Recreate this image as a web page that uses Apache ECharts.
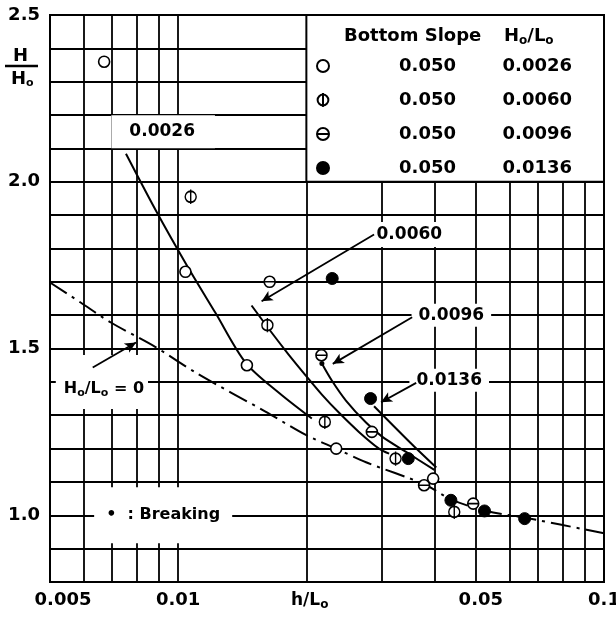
<!DOCTYPE html>
<html><head><meta charset="utf-8">
<script src="https://cdn.jsdelivr.net/npm/echarts@6/dist/echarts.min.js"></script>
<style>html,body{margin:0;padding:0;background:#fff}#c{width:616px;height:621px}</style>
</head><body><div id="c"></div>
<script>
// ---- axes ----
const xGridValues = [0.005,0.006,0.007,0.008,0.009,0.01,0.02,0.03,0.04,0.05,0.06,0.07,0.08,0.09,0.1];
const xTickLabels = [0.005,0.01,0.05,0.1];
const yTickLabels = [1.0,1.5,2.0,2.5];

// ---- measured points (h/Lo, H/Ho) ----
const seriesNames = ['0.0026','0.0060','0.0096','0.0136'];
const bottomSlopes = ['0.050','0.050','0.050','0.050'];
const pts0026 = [[0.0067,2.36],[0.0104,1.73],[0.0145,1.45],[0.0235,1.20],[0.0397,1.11]];
const pts0060 = [[0.0107,1.955],[0.0162,1.57],[0.0221,1.28],[0.0324,1.17],[0.0445,1.01]];
const pts0096 = [[0.0164,1.70],[0.0217,1.48],[0.0285,1.25],[0.0378,1.09],[0.0493,1.035]];
const pts0136 = [[0.0230,1.71],[0.0283,1.35],[0.0347,1.17],[0.0437,1.045],[0.0524,1.013],[0.0651,0.99]];

// ---- theoretical curves ----
const curve0026 = [[0.00754,2.084],[0.00887,1.913],[0.01045,1.752],[0.01223,1.607],[0.01439,1.458],[0.01721,1.368],[0.0206,1.29]];
const curve0060 = [[0.01487,1.629],[0.01657,1.548],[0.01817,1.482],[0.01994,1.419],[0.02175,1.362],[0.02384,1.308],[0.02657,1.25],[0.02962,1.20],[0.03129,1.185]];
const curve0096 = [[0.02175,1.455],[0.02295,1.404],[0.02477,1.344],[0.02761,1.278],[0.03012,1.236],[0.03429,1.19],[0.03995,1.136]];
const curve0136 = [[0.02884,1.327],[0.03214,1.266],[0.03583,1.206],[0.04038,1.143]];
const curveZero = [[0.005,1.698],[0.0059,1.638],[0.00695,1.578],[0.00883,1.505],[0.01115,1.423],[0.01603,1.311],[0.01994,1.241],[0.02358,1.199],[0.02761,1.159],[0.03783,1.093],[0.04381,1.047],[0.05297,1.013],[0.06582,0.992],[0.1,0.946]];

// ---- annotations ----
const annotLabels = ['0.0026','0.0060','0.0096','0.0136','{t|H}{s|o}{t|/L}{s|o}{t| = 0}','{t|•  : Breaking}'];
const annotPos = [[0.00922,2.15],[0.0349,1.842],[0.0438,1.60],[0.0433,1.405],[0.00662,1.40],[0.00922,1.0]];
const arrowFrom = [[0.02884,1.842],[0.03544,1.594],[0.03622,1.397],[0.0063,1.443]];
const arrowTo = [[0.01570,1.642],[0.02307,1.454],[0.02995,1.339],[0.00796,1.518]];
const curveStartDot = [[0.02175,1.455]];
const legendBox = [[0.02,2.0],[0.1,2.5]];

const FF = 'DejaVu Sans';
const pathPhi = 'path://M10,3 A10,10 0 1,1 10,23 A10,10 0 1,1 10,3 Z M10,0 L10,26';
const pathTheta = 'path://M10,0 A10,10 0 1,1 10,20 A10,10 0 1,1 10,0 Z M0,10 L20,10';

const chart = echarts.init(document.getElementById('c'), null, {renderer:'canvas'});
const ptStyle = {color:'#fff', borderColor:'#000', borderWidth:1.6, opacity:1};
const lineBase = {type:'line', showSymbol:false, symbol:'none', smooth:0.3, silent:true, z:3,
  lineStyle:{color:'#000', width:2}};
const subRich = {
  t:{fontFamily:FF, fontWeight:'bold', fontSize:16, color:'#000', lineHeight:20},
  s:{fontFamily:FF, fontWeight:'bold', fontSize:11, color:'#000', verticalAlign:'bottom', lineHeight:17}
};
const annotPads = [[8,20,8,18],[4,3,4,3],[3,7,3,7],[3,7,3,7],[24,4,10,8],[18,12,18,12]];
const xLabelRich = {
  l:{fontFamily:FF, fontWeight:'bold', fontSize:18, color:'#000', padding:[0,0,0,26]},
  m:{fontFamily:FF, fontWeight:'bold', fontSize:18, color:'#000', padding:[0,0,0,10]},
  n:{fontFamily:FF, fontWeight:'bold', fontSize:18, color:'#000'}
};

chart.setOption({
  animation:false,
  backgroundColor:'#fff',
  textStyle:{fontFamily:FF, fontWeight:'bold', color:'#000'},
  grid:{left:50, right:12, top:15, bottom:39, outerBoundsMode:'none', containLabel:false,
    show:true, borderColor:'#000', borderWidth:2, backgroundColor:'transparent'},
  title:[
    {text:'Bottom Slope', left:339, top:22, textStyle:{fontFamily:FF, fontWeight:'bold', fontSize:18, color:'#000'}},
    {text:'{t|H}{s|o}{t|/L}{s|o}', left:499, top:20, textStyle:{rich:{
      t:{fontFamily:FF, fontWeight:'bold', fontSize:18, color:'#000', lineHeight:22},
      s:{fontFamily:FF, fontWeight:'bold', fontSize:12, color:'#000', verticalAlign:'bottom', lineHeight:19}}}}
  ],
  graphic:[
    {type:'text', left:13, top:47, style:{text:'H', font:'bold 18px "DejaVu Sans"', fill:'#000'}},
    {type:'line', shape:{x1:5, y1:66, x2:38, y2:66}, style:{stroke:'#000', lineWidth:2.5}},
    {type:'text', left:11, top:70, style:{text:'{t|H}{s|o}', rich:{
      t:{font:'bold 18px "DejaVu Sans"', fill:'#000', lineHeight:20},
      s:{font:'bold 11px "DejaVu Sans"', fill:'#000', verticalAlign:'bottom', lineHeight:16}}}},
    {type:'text', left:291, top:592, style:{text:'{t|h/L}{s|o}', rich:{
      t:{font:'bold 17px "DejaVu Sans"', fill:'#000', lineHeight:20},
      s:{font:'bold 12px "DejaVu Sans"', fill:'#000', verticalAlign:'bottom', lineHeight:17}}}}
  ],
  legend:{
    data:seriesNames, orient:'vertical', left:311, top:50, itemWidth:12, itemHeight:14, itemGap:12,
    selectedMode:false,
    formatter:name => '{a|' + bottomSlopes[seriesNames.indexOf(name)] + '}{b|' + name + '}',
    textStyle:{color:'#000', lineHeight:22, rich:{
      a:{width:122, align:'right', fontFamily:FF, fontWeight:'bold', fontSize:18, color:'#000', lineHeight:22},
      b:{width:116, align:'right', fontFamily:FF, fontWeight:'bold', fontSize:18, color:'#000', lineHeight:22}}}
  },
  xAxis:{
    type:'log', logBase:10, min:0.005, max:0.1,
    axisLine:{show:true, lineStyle:{color:'#000', width:2}},
    axisTick:{show:false, customValues:xGridValues},
    axisLabel:{customValues:xTickLabels, margin:9, fontFamily:FF, fontWeight:'bold', fontSize:18, color:'#000', rich:xLabelRich,
      formatter:v => { let best = xTickLabels[0]; xTickLabels.forEach(t => { if (Math.abs(Math.log(t/v)) < Math.abs(Math.log(best/v))) best = t; });
        const k = best === 0.005 ? 'l' : (best === 0.05 ? 'm' : 'n'); return '{' + k + '|' + String(best) + '}'; }},
    splitLine:{show:true, lineStyle:{color:'#000', width:1.8}},
    minorSplitLine:{show:false}
  },
  yAxis:{
    type:'value', min:0.8, max:2.5, interval:0.1,
    axisLine:{show:true, lineStyle:{color:'#000', width:2}},
    axisTick:{show:false},
    axisLabel:{margin:10, fontFamily:FF, fontWeight:'bold', fontSize:18, color:'#000',
      formatter:v => { const m = yTickLabels.find(t => Math.abs(t - v) < 1e-6); return m === undefined ? '' : m.toFixed(1); }},
    splitLine:{show:true, lineStyle:{color:'#000', width:1.8}}
  },
  series:[
    {name:'box', type:'line', data:[], silent:true, z:1,
      markArea:{silent:true, z:1, itemStyle:{color:'#fff', borderColor:'#000', borderWidth:2, opacity:1},
        data:[[{coord:legendBox[0]},{coord:legendBox[1]}]]}},
    Object.assign({}, lineBase, {name:'c0026', data:curve0026}),
    Object.assign({}, lineBase, {name:'c0060', data:curve0060}),
    Object.assign({}, lineBase, {name:'c0096', data:curve0096}),
    Object.assign({}, lineBase, {name:'c0136', data:curve0136}),
    Object.assign({}, lineBase, {name:'cZero', data:curveZero, z:2,
      lineStyle:{color:'#000', width:2, type:[20,6,3,6]}}),
    {name:'annot', type:'scatter', symbolSize:1, z:6, silent:true, itemStyle:{color:'rgba(0,0,0,0)', opacity:1},
      data:annotPos.map((p,i) => ({value:p, label:{
        show:true, position:'inside', formatter:annotLabels[i], backgroundColor:'#fff', opacity:1,
        padding:annotPads[i], fontFamily:FF, fontWeight:'bold', fontSize:17, color:'#000', rich:subRich}}))},
    {name:'arrows', type:'line', data:[], silent:true, z:8,
      markLine:{silent:true, z:9, symbol:['none','arrow'], symbolSize:[8,11], label:{show:false},
        lineStyle:{color:'#000', width:1.8, type:'solid', opacity:1},
        data:arrowFrom.map((f,i) => [{coord:f}, {coord:arrowTo[i]}])}},
    {name:'startDot', type:'scatter', data:curveStartDot, symbol:'circle', symbolSize:5, silent:true, z:7,
      itemStyle:{color:'#000', opacity:1}},
    {name:'0.0026', type:'scatter', data:pts0026, symbol:'circle', symbolSize:11, itemStyle:ptStyle, z:7},
    {name:'0.0060', type:'scatter', data:pts0060, symbol:pathPhi, symbolSize:[11,14.3], itemStyle:ptStyle, z:7},
    {name:'0.0096', type:'scatter', data:pts0096, symbol:pathTheta, symbolSize:11, itemStyle:ptStyle, z:7},
    {name:'0.0136', type:'scatter', data:pts0136, symbol:'circle', symbolSize:12, itemStyle:{color:'#000', borderColor:'#000', borderWidth:1, opacity:1}, z:7}
  ]
});
</script>
</body></html>
